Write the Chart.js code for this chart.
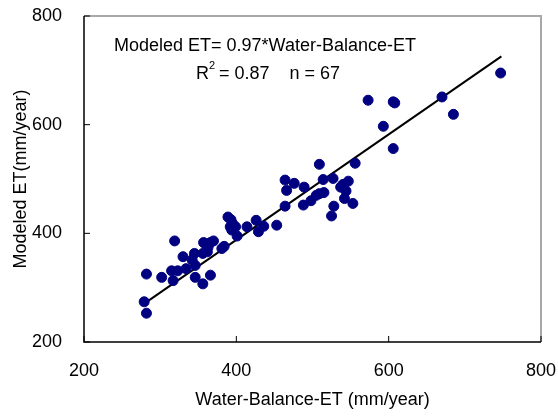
<!DOCTYPE html>
<html>
<head>
<meta charset="utf-8">
<script src="https://cdn.jsdelivr.net/npm/chart.js@4/dist/chart.umd.min.js"></script>
<style>
  html, body { margin: 0; padding: 0; background: #fff; }
  #wrap { width: 558px; height: 416px; }
</style>
</head>
<body>
<div id="wrap"><canvas id="et-chart"></canvas></div>
<script>
// Water-balance ET (x) vs modeled ET (y), mm/year
const waterBalanceET = [279, 282, 282, 302, 315, 323, 317, 319, 330, 334, 345, 342, 346, 346, 356, 366,
    357, 363, 356, 362, 370, 366, 381, 384, 389, 393, 392, 394, 399, 401, 414, 426, 429, 436, 453,
    464, 464, 466, 476, 489, 488, 498, 505, 509, 515, 509, 514, 527, 528, 525, 537, 544, 542, 547,
    553, 556, 573, 593, 606, 608, 606, 670, 685, 747, 395, 360, 540];
const modeledET = [274, 253, 325, 319, 331, 331, 313, 386, 357, 335, 363, 351, 341, 319, 307, 323,
    383, 375, 363, 366, 386, 383, 372, 376, 430, 425, 412, 406, 412, 395, 412, 424, 403, 413, 415,
    450, 498, 479, 492, 485, 452, 460, 470, 473, 475, 527, 499, 501, 450, 432, 485, 478, 464, 496,
    455, 529, 645, 597, 642, 640, 556, 651, 619, 695, 418, 380, 490];

// regression line: Modeled ET = 0.97 * Water-Balance-ET
const fitSlope = 0.97;
const fitRange = [280, 748];

const axisTicks = [200, 400, 600, 800];

const points = waterBalanceET.map((x, i) => ({ x: x, y: modeledET[i] }));
const fitLine = fitRange.map(x => ({ x: x, y: fitSlope * x }));

const FONT = "'Liberation Sans', Arial, sans-serif";

// frame, inside tick marks and the equation text
const framePlugin = {
    id: 'frame',
    afterDraw(chart) {
        const ctx = chart.ctx;
        const a = chart.chartArea;
        const xs = chart.scales.x, ys = chart.scales.y;
        ctx.save();
        ctx.strokeStyle = '#a8a8a8';
        ctx.lineWidth = 2;
        ctx.beginPath();
        ctx.moveTo(a.left, a.top);
        ctx.lineTo(a.right, a.top);
        ctx.lineTo(a.right, a.bottom);
        ctx.stroke();
        ctx.strokeStyle = '#000';
        ctx.lineWidth = 1.5;
        ctx.beginPath();
        ctx.moveTo(a.left, a.top);
        ctx.lineTo(a.left, a.bottom);
        ctx.lineTo(a.right, a.bottom);
        ctx.stroke();
        ctx.lineWidth = 1;
        ctx.beginPath();
        axisTicks.forEach(v => {
            const px = xs.getPixelForValue(v);
            ctx.moveTo(px, a.bottom);
            ctx.lineTo(px, a.bottom - 6);
            const py = ys.getPixelForValue(v);
            ctx.moveTo(a.left, py);
            ctx.lineTo(a.left + 6, py);
        });
        ctx.stroke();

        ctx.fillStyle = '#000';
        ctx.font = '18px ' + FONT;
        ctx.textBaseline = 'middle';
        ctx.textAlign = 'left';
        ctx.fillText('Modeled ET= 0.97*Water-Balance-ET', 114, 46);
        ctx.fillText('R', 196, 74);
        const rw = ctx.measureText('R').width;
        ctx.font = '11px ' + FONT;
        ctx.fillText('2', 196 + rw, 66);
        ctx.font = '18px ' + FONT;
        ctx.fillText(' = 0.87    n = 67', 196 + rw + 5, 74);
        ctx.restore();
    }
};

const chart = new Chart(document.getElementById('et-chart'), {
    type: 'scatter',
    data: {
        datasets: [{
            label: 'ET',
            data: points,
            backgroundColor: '#000080',
            borderColor: '#000080',
            pointRadius: 5,
            pointHoverRadius: 5
        }, {
            label: 'fit',
            data: fitLine,
            showLine: true,
            borderColor: '#000',
            borderWidth: 2,
            pointRadius: 0
        }]
    },
    options: {
        responsive: true,
        maintainAspectRatio: false,
        animation: false,
        layout: { padding: { top: 0, right: 0, left: 0, bottom: 0 } },
        plugins: { legend: { display: false }, tooltip: { enabled: false } },
        scales: {
            x: {
                type: 'linear',
                min: 200, max: 800,
                afterBuildTicks: s => { s.ticks = axisTicks.map(v => ({ value: v })); },
                afterFit: s => { s.height = 74; s.paddingRight = 17; },
                grid: { display: false },
                border: { display: false },
                ticks: { color: '#000', font: { family: FONT, size: 18 }, padding: 10 },
                title: {
                    display: true,
                    text: 'Water-Balance-ET (mm/year)',
                    color: '#000',
                    font: { family: FONT, size: 18 },
                    padding: { top: 4, bottom: 5 }
                }
            },
            y: {
                type: 'linear',
                min: 200, max: 800,
                afterBuildTicks: s => { s.ticks = axisTicks.map(v => ({ value: v })); },
                afterFit: s => { s.width = 84; s.paddingTop = 16; },
                grid: { display: false },
                border: { display: false },
                ticks: { color: '#000', font: { family: FONT, size: 18 }, padding: 14 },
                title: {
                    display: true,
                    text: 'Modeled ET(mm/year)',
                    color: '#000',
                    font: { family: FONT, size: 18 },
                    padding: { top: 10, bottom: 4 }
                }
            }
        }
    },
    plugins: [framePlugin]
});
</script>
</body>
</html>
